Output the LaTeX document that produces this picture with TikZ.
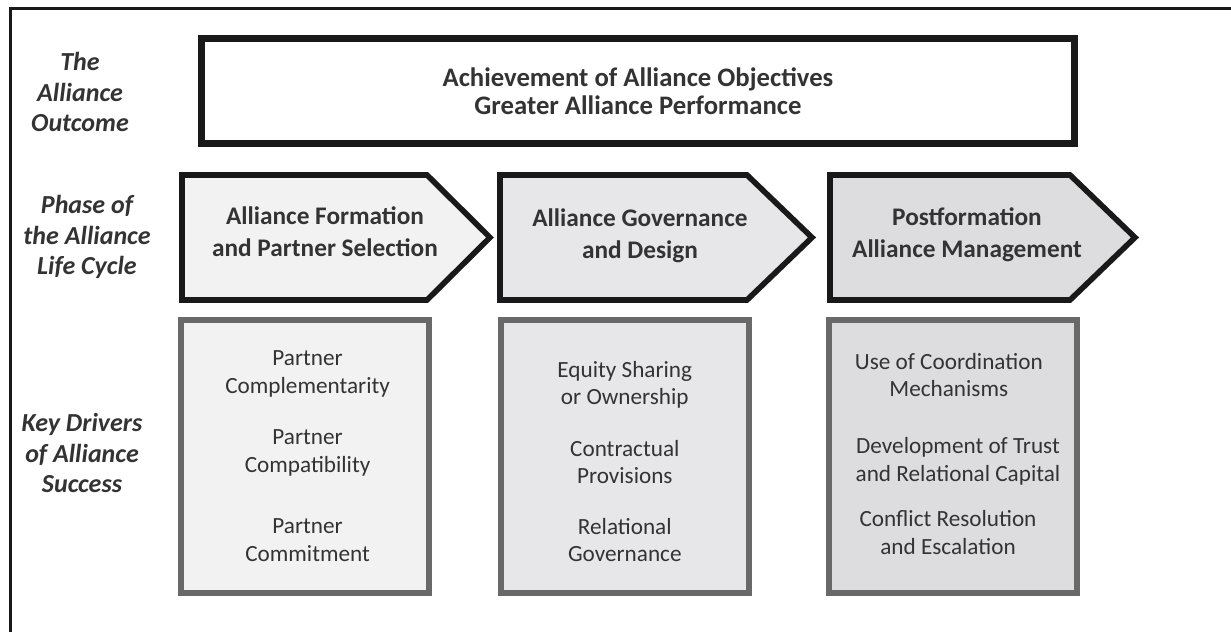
\documentclass[tikz,border=0pt]{standalone}
\usepackage{fontspec}
\setmainfont{Carlito}
\usepackage{tikz}
\usetikzlibrary{positioning}
\definecolor{alblack}{RGB}{25,25,25}
\definecolor{altext}{RGB}{51,51,51}
\definecolor{algrey}{RGB}{105,105,105}
\definecolor{alfillA}{RGB}{242,242,242}
\definecolor{alfillB}{RGB}{231,231,233}
\definecolor{alfillC}{RGB}{221,221,223}
\tikzstyle{outcomebox} = [rectangle, draw=alblack, fill=white, line width=0.17cm, minimum width=21.825cm, minimum height=2.625cm, align=center, text=altext, font=\fontsize{19}{20}\selectfont\bfseries]
\tikzstyle{phase} = [draw=alblack, line width=0.14cm, line join=miter]
\tikzstyle{phasetext} = [align=center, text=altext, font=\fontsize{18}{22.8}\selectfont\bfseries]
\tikzstyle{drvbox} = [rectangle, draw=algrey, line width=0.15cm, minimum width=6.2cm, minimum height=6.825cm]
\tikzstyle{drvtext} = [align=center, text=altext, font=\fontsize{16.5}{19.5}\selectfont]
\tikzstyle{rowlabel} = [align=center, text=altext, font=\fontsize{18.5}{21.7}\selectfont\bfseries\itshape]

\begin{document}
\begin{tikzpicture}
\useasboundingbox (0,0) rectangle (30.775,15.8);
% Frame
\draw[line width=0.075cm, alblack] (0.2625,0) -- (0.2625,15.5875) -- (30.775,15.5875);

% Row labels
\node[rowlabel] (outlabel) at (2.0,13.5) {The\\Alliance\\Outcome};
\node[rowlabel] (phaselabel) at (2.175,9.875) {Phase of\\the Alliance\\Life Cycle};
\node[rowlabel] (drvlabel) at (2.05,4.475) {Key Drivers\\of Alliance\\Success};

% Outcome
\node[outcomebox] (outcome) at (15.95,13.525) {Achievement of Alliance Objectives\\Greater Alliance Performance};

% Phases
\draw[phase, fill=alfillA] (4.55,11.425) -- (10.675,11.425) -- (12.25,9.8625) -- (10.675,8.3) -- (4.55,8.3) -- cycle;
\draw[phase, fill=alfillB] (12.5,11.425) -- (18.675,11.425) -- (20.3,9.8625) -- (18.675,8.3) -- (12.5,8.3) -- cycle;
\draw[phase, fill=alfillC] (20.75,11.425) -- (26.75,11.425) -- (28.375,9.8625) -- (26.75,8.3) -- (20.75,8.3) -- cycle;
\node[phasetext] (formation) at (8.125,10.0) {Alliance Formation\\and Partner Selection};
\node[phasetext] (governance) at (16.0,9.9) {Alliance Governance\\and Design};
\node[phasetext] (postform) at (24.175,9.925) {Postformation\\Alliance Management};

% Key drivers
\node[drvbox, fill=alfillA] (drvform) at (7.6125,4.375) {};
\node[drvbox, fill=alfillB] (drvgov) at (15.6125,4.375) {};
\node[drvbox, fill=alfillC] (drvpost) at (23.8125,4.375) {};

\node[drvtext] (complement) at (7.69,6.45) {Partner\\Complementarity};
\node[drvtext] (compat) at (7.69,4.475) {Partner\\Compatibility};
\node[drvtext] (commit) at (7.69,2.3) {Partner\\Commitment};

\node[drvtext] (equity) at (15.62,6.175) {Equity Sharing\\or Ownership};
\node[drvtext] (contract) at (15.62,4.25) {Contractual\\Provisions};
\node[drvtext] (relgov) at (15.62,2.3) {Relational\\Governance};

\node[drvtext] (coord) at (23.72,6.425) {Use of Coordination\\Mechanisms};
\node[drvtext] (trust) at (23.95,4.2625) {Development of Trust\\and Relational Capital};
\node[drvtext] (conflict) at (23.7,2.4875) {Conflict Resolution\\and Escalation};
\end{tikzpicture}
\end{document}
